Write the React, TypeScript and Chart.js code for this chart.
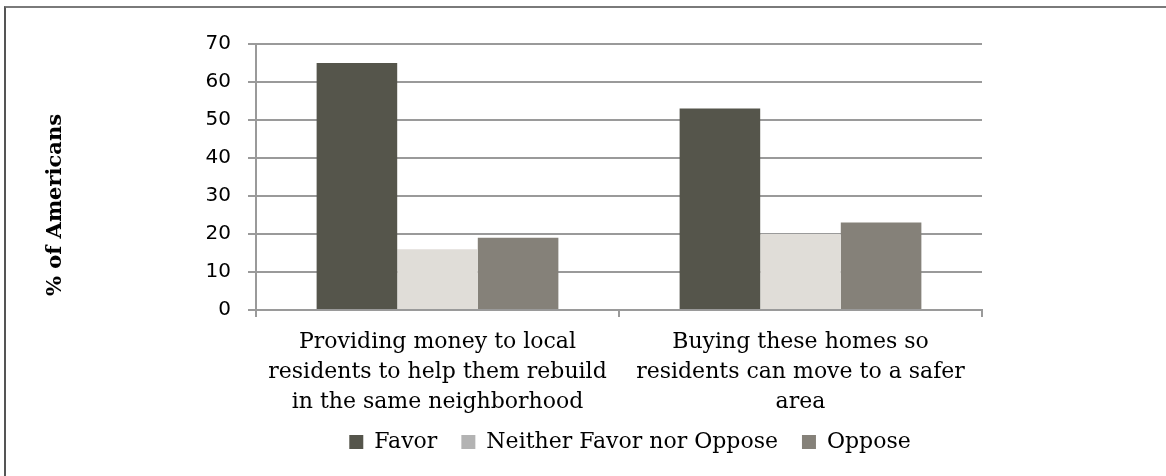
import React, { useEffect, useRef } from "react";
import { Chart, registerables } from "chart.js";

Chart.register(...registerables);

const categories: string[][] = [
  ["Providing money to local", "residents to help them rebuild", "in the same neighborhood"],
  ["Buying these homes so", "residents can move to a safer", "area"],
];
const seriesNames = ["Favor", "Neither Favor nor Oppose", "Oppose"];
const favorValues = [65, 53];
const neitherValues = [16, 20];
const opposeValues = [19, 23];
const barColors = ["#55554B", "#E0DDD8", "#858179"];
const legendColors = ["#55554B", "#B3B3B3", "#858179"];
const yTitle = "% of Americans";

const GRID = "#9a9a9a";
const SERIF = "'DejaVu Serif', serif";
const SANS = "'DejaVu Sans', sans-serif";

const yTitlePlugin = {
  id: "yTitlePlugin",
  afterDraw(chart: any) {
    const ctx = chart.ctx;
    ctx.save();
    ctx.translate(56, 205);
    ctx.rotate(-Math.PI / 2);
    ctx.font = `bold 21px ${SERIF}`;
    ctx.fillStyle = "#000";
    ctx.textAlign = "center";
    ctx.textBaseline = "middle";
    ctx.fillText(yTitle, 0, 0);
    ctx.restore();
  },
};

// nudge the legend row to sit where the reference has it
const legendShiftPlugin = {
  id: "legendShiftPlugin",
  afterLayout(chart: any) {
    const lg = chart.legend;
    if (!lg) return;
    lg.top -= 9;
    lg.bottom -= 9;
    lg.left += 11;
    lg.right += 11;
  },
};

export default function App() {
  const ref = useRef<HTMLCanvasElement | null>(null);

  useEffect(() => {
    if (!ref.current) return;
    const values = [favorValues, neitherValues, opposeValues];
    const chart = new Chart(ref.current, {
      type: "bar",
      data: {
        labels: categories,
        datasets: seriesNames.map((name, i) => ({
          label: name,
          data: values[i],
          backgroundColor: barColors[i],
          borderWidth: 0,
          barPercentage: 1,
          categoryPercentage: 0.666,
        })),
      },
      options: {
        animation: false,
        responsive: true,
        maintainAspectRatio: false,
        layout: { padding: { left: 0, right: 184, top: 44, bottom: 4 } },
        plugins: {
          tooltip: { enabled: false },
          title: { display: false },
          legend: {
            position: "bottom",
            fullSize: false,
            labels: {
              boxWidth: 14,
              boxHeight: 14,
              padding: 24,
              color: "#000",
              font: { family: SERIF, size: 22 },
              generateLabels: () =>
                seriesNames.map((name, i) => ({
                  text: name,
                  fillStyle: legendColors[i],
                  strokeStyle: legendColors[i],
                  lineWidth: 0,
                  hidden: false,
                  datasetIndex: i,
                  fontColor: "#000",
                })),
            },
          },
        },
        scales: {
          x: {
            offset: true,
            afterFit: (scale: any) => {
              scale.height = 106;
            },
            grid: {
              display: true,
              offset: true,
              drawOnChartArea: false,
              drawTicks: true,
              tickLength: 7,
              color: GRID,
              lineWidth: 2,
            },
            border: { display: true, color: GRID, width: 2 },
            ticks: {
              color: "#000",
              padding: 10,
              maxRotation: 0,
              autoSkip: false,
              font: { family: SERIF, size: 22, lineHeight: "30px" },
            },
          },
          y: {
            min: 0,
            max: 70,
            afterFit: (scale: any) => {
              scale.width = 256;
            },
            grid: {
              display: true,
              drawTicks: true,
              tickLength: 8,
              color: GRID,
              lineWidth: 2,
            },
            border: { display: true, color: GRID, width: 2 },
            ticks: {
              stepSize: 10,
              color: "#000",
              padding: 17,
              font: { family: SANS, size: 20 },
            },
          },
        },
      },
      plugins: [yTitlePlugin, legendShiftPlugin],
    });
    return () => chart.destroy();
  }, []);

  return (
    <div
      style={{
        position: "fixed",
        left: 0,
        top: 0,
        width: 1166,
        height: 476,
        overflow: "hidden",
        background: "#fff",
      }}
    >
      <div
        style={{
          position: "absolute",
          left: 4,
          top: 6,
          width: 2000,
          height: 2000,
          borderLeft: "2px solid #555",
          borderTop: "2px solid #7a7a7a",
        }}
      />
      <div style={{ position: "absolute", left: 0, top: 0, width: 1166, height: 476 }}>
        <canvas ref={ref} />
      </div>
    </div>
  );
}
